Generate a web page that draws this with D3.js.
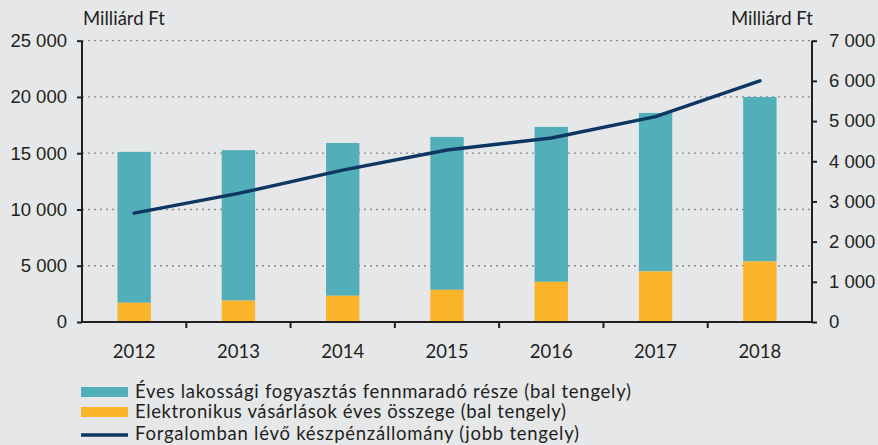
<!DOCTYPE html>
<html>
<head>
<meta charset="utf-8">
<script src="https://cdn.jsdelivr.net/npm/d3@7"></script>
<style>
  body { margin: 0; background: #e6e7e9; }
  svg { display: block; font-family: Lato, "Open Sans", sans-serif; }
  .axis path, .axis line { stroke: #231f20; stroke-width: 2px; }
  .axis text { font-size: 18.5px; fill: #231f20; }
  .grid line { stroke: #8a8a8a; stroke-width: 1.3px; stroke-dasharray: 2,4; }
</style>
</head>
<body>
<div id="chart"></div>
<script>
// data
var years = ["2012", "2013", "2014", "2015", "2016", "2017", "2018"];
var electronic = [1710, 1900, 2330, 2860, 3570, 4490, 5380];   // yellow, bottom
var totalConsumption = [15120, 15270, 15910, 16450, 17340, 18580, 20000]; // bar top
var cashStock = [2710, 3200, 3780, 4280, 4580, 5110, 6000];    // right axis line
var leftTicks = [0, 5000, 10000, 15000, 20000, 25000];
var rightTicks = [0, 1000, 2000, 3000, 4000, 5000, 6000, 7000];
var legendLabels = [
  "Éves lakossági fogyasztás fennmaradó része (bal tengely)",
  "Elektronikus vásárlások éves összege (bal tengely)",
  "Forgalomban lévő készpénzállomány (jobb tengely)"
];
var legendWidths = [496, 431, 444];

var W = 878, H = 445;
var margin = {top: 40.7, right: 66, bottom: 123, left: 82},
    w = W - margin.left - margin.right,
    h = H - margin.top - margin.bottom;

var fmt = function(v) { return d3.format(",")(v).replace(/,/g, " "); };

var x = d3.scaleBand().domain(years).range([0, w]).paddingInner(0.68).paddingOuter(0.34),
    xb = d3.scaleBand().domain(years).range([0, w]),
    yL = d3.scaleLinear().domain([0, 25000]).range([h, 0]),
    yR = d3.scaleLinear().domain([0, 7000]).range([h, 0]);

var svg = d3.select("#chart").append("svg")
    .attr("width", W)
    .attr("height", H)
  .append("g")
    .attr("transform", "translate(" + margin.left + "," + margin.top + ")");

// gridlines
svg.append("g")
    .attr("class", "grid")
    .selectAll("line")
    .data(leftTicks.filter(function(d) { return d > 0; }))
    .enter().append("line")
    .attr("x1", 0).attr("x2", w)
    .attr("y1", function(d) { return yL(d); })
    .attr("y2", function(d) { return yL(d); });

// bars
var bars = svg.append("g");
years.forEach(function(yr, i) {
  bars.append("rect")
      .attr("x", x(yr))
      .attr("width", x.bandwidth())
      .attr("y", yL(totalConsumption[i]))
      .attr("height", yL(electronic[i]) - yL(totalConsumption[i]))
      .attr("fill", "#52afba");
  bars.append("rect")
      .attr("x", x(yr))
      .attr("width", x.bandwidth())
      .attr("y", yL(electronic[i]))
      .attr("height", h - yL(electronic[i]))
      .attr("fill", "#fab52b");
});

// line
var line = d3.line()
    .x(function(d, i) { return x(years[i]) + x.bandwidth() / 2; })
    .y(function(d) { return yR(d); });

svg.append("path")
    .datum(cashStock)
    .attr("d", line)
    .attr("fill", "none")
    .attr("stroke", "#0d3762")
    .attr("stroke-width", 3.5)
    .attr("stroke-linecap", "round");

// axes
var yLAxis = d3.axisLeft(yL).tickValues(leftTicks).tickFormat(fmt).tickSize(5).tickPadding(10);
var yRAxis = d3.axisRight(yR).tickValues(rightTicks).tickFormat(fmt).tickSize(5).tickPadding(12);

svg.append("g").attr("class", "axis").call(yLAxis)
    .call(function(g) { g.select(".domain").attr("d", "M0,0V" + h); });

svg.append("g").attr("class", "axis")
    .attr("transform", "translate(" + w + ",0)")
    .call(yRAxis)
    .call(function(g) { g.select(".domain").attr("d", "M0,0V" + h); });

var xAxis = svg.append("g").attr("class", "axis")
    .attr("transform", "translate(0," + h + ")");
xAxis.append("line").attr("x1", 0).attr("x2", w);
xAxis.selectAll(".tk")
    .data(years.slice(1))
    .enter().append("line")
    .attr("x1", function(d) { return xb(d); })
    .attr("x2", function(d) { return xb(d); })
    .attr("y1", 0).attr("y2", 6);
xAxis.selectAll(".lbl")
    .data(years)
    .enter().append("text")
    .attr("x", function(d) { return x(d) + x.bandwidth() / 2; })
    .attr("y", 30)
    .attr("dy", "0.35em")
    .attr("text-anchor", "middle")
    .text(function(d) { return d; });

// axis titles
svg.append("text")
    .attr("x", 1).attr("y", -22)
    .attr("dy", "0.35em")
    .style("font-size", "18.5px").style("fill", "#231f20")
    .text("Milliárd Ft");
svg.append("text")
    .attr("x", w + 1).attr("y", -22)
    .attr("dy", "0.35em")
    .attr("text-anchor", "end")
    .style("font-size", "18.5px").style("fill", "#231f20")
    .text("Milliárd Ft");

// legend
var legend = d3.select("svg").append("g")
    .attr("transform", "translate(81,0)");
var legendY = [392, 412, 434];
legend.append("rect").attr("x", 0).attr("y", legendY[0] - 5).attr("width", 47).attr("height", 10).attr("fill", "#52afba");
legend.append("rect").attr("x", 0).attr("y", legendY[1] - 5).attr("width", 47).attr("height", 10).attr("fill", "#fab52b");
legend.append("line").attr("x1", 0).attr("x2", 47).attr("y1", legendY[2] + 1).attr("y2", legendY[2] + 1)
    .attr("stroke", "#0d3762").attr("stroke-width", 3.5);
legend.selectAll("text")
    .data(legendLabels)
    .enter().append("text")
    .attr("x", 54)
    .attr("y", function(d, i) { return legendY[i]; })
    .attr("dy", "0.35em")
    .attr("textLength", function(d, i) { return legendWidths[i]; })
    .attr("lengthAdjust", "spacing")
    .style("font-size", "18.5px").style("fill", "#231f20")
    .text(function(d) { return d; });
</script>
</body>
</html>
